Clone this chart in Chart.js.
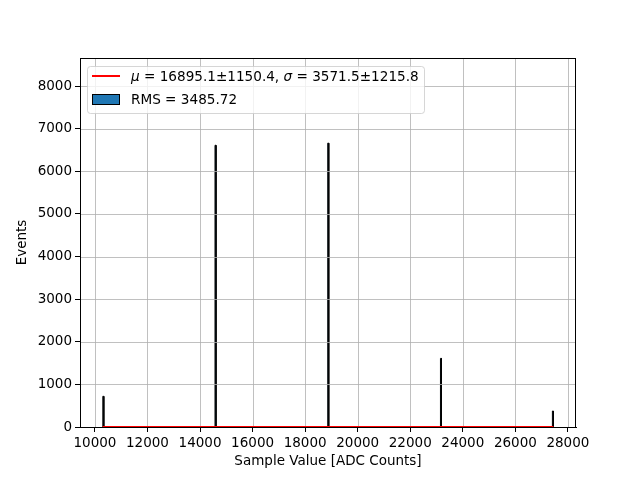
<!DOCTYPE html>
<html>
<head>
<meta charset="utf-8">
<script src="https://cdn.jsdelivr.net/npm/chart.js@4/dist/chart.umd.min.js"></script>
<style>
  html, body { margin: 0; padding: 0; background: #fff; }
  #wrap { width: 640px; height: 480px; }
</style>
</head>
<body>
<div id="wrap"><canvas id="hist" width="640" height="480"></canvas></div>
<script>
/* ADC sample histogram with gaussian fit overlay */

// histogram peaks (bin centre, events)
const peakCenters = [10320, 14590, 18880, 23170, 27430];
const peakCounts = [720, 6610, 6660, 1610, 375];
const binWidth = 40;

// gaussian fit curve (amplitude is tiny, sits on zero)
const fitX = [10290, 12000, 14000, 16000, 18000, 20000, 22000, 24000, 26000, 27450];
const fitY = [0, 0, 0, 0, 0, 0, 0, 0, 0, 0];

const xTicks = [10000, 12000, 14000, 16000, 18000, 20000, 22000, 24000, 26000, 28000];
const yTicks = [0, 1000, 2000, 3000, 4000, 5000, 6000, 7000, 8000];

const X_MIN = 9432, X_MAX = 28308;
const Y_MAX = 8658;

const FONT = 'DejaVu Sans';
const BLUE = '#1f77b4';

function histPoints() {
  const pts = [];
  peakCenters.forEach((c, i) => {
    const l = c - binWidth / 2, r = c + binWidth / 2;
    pts.push({ x: l, y: 0 }, { x: l, y: peakCounts[i] }, { x: r, y: peakCounts[i] }, { x: r, y: 0 });
  });
  return pts;
}

/* ---------- grid over the bars, frame, legend ---------- */
const decor = {
  id: 'decor',
  afterDatasetDraw(chart, args) {
    if (args.index !== 1) return;
    const { ctx, chartArea: a, scales } = chart;
    ctx.save();
    ctx.strokeStyle = '#b0b0b0';
    ctx.lineWidth = 0.8;
    ctx.beginPath();
    xTicks.forEach((v) => {
      const px = Math.round(scales.x.getPixelForValue(v)) + 0.5;
      ctx.moveTo(px, a.top); ctx.lineTo(px, a.bottom);
    });
    yTicks.forEach((v) => {
      const py = Math.round(scales.y.getPixelForValue(v)) + 0.5;
      ctx.moveTo(a.left, py); ctx.lineTo(a.right, py);
    });
    ctx.stroke();
    ctx.restore();
  },
  afterDraw(chart) {
    const { ctx, chartArea: a } = chart;
    ctx.save();
    ctx.strokeStyle = '#000';
    ctx.lineWidth = 1;
    ctx.strokeRect(a.left + 0.5, a.top + 0.5, a.right - a.left - 1, a.bottom - a.top);

    // legend
    const lx = 87, ly = 66, lw = 337, lh = 47;
    ctx.fillStyle = 'rgba(255,255,255,0.8)';
    ctx.strokeStyle = 'rgba(204,204,204,0.8)';
    ctx.beginPath();
    ctx.roundRect(lx + 0.5, ly + 0.5, lw, lh, 3);
    ctx.fill(); ctx.stroke();

    ctx.strokeStyle = '#ff0000';
    ctx.lineWidth = 2;
    ctx.beginPath(); ctx.moveTo(92, 76); ctx.lineTo(120, 76); ctx.stroke();

    ctx.fillStyle = BLUE;
    ctx.fillRect(92.5, 94.5, 27, 10);
    ctx.strokeStyle = '#000'; ctx.lineWidth = 1;
    ctx.strokeRect(92.5, 94.5, 27, 10);

    ctx.fillStyle = '#000';
    ctx.textBaseline = 'middle';
    const parts = [
      ['italic', 'μ'], ['normal', ' = 16895.1±1150.4, '], ['italic', 'σ'], ['normal', ' = 3571.5±1215.8'],
    ];
    let tx = 131;
    parts.forEach(([style, s]) => {
      ctx.font = style + ' 13.6px "' + FONT + '"';
      ctx.fillText(s, tx, 77);
      tx += ctx.measureText(s).width;
    });
    ctx.font = '13.6px "' + FONT + '"';
    ctx.fillText('RMS = 3485.72', 131, 100);
    ctx.restore();
  },
};

const plain = (v) => String(v);

new Chart(document.getElementById('hist'), {
  type: 'scatter',
  data: {
    datasets: [
      {
        label: 'fit', data: fitX.map((x, i) => ({ x, y: fitY[i] })),
        showLine: true, borderColor: '#ff0000', borderWidth: 2, pointRadius: 0, fill: false,
      },
      {
        label: 'hist', data: histPoints(),
        showLine: true, borderColor: '#000', borderWidth: 1, pointRadius: 0,
        backgroundColor: BLUE, fill: 'origin', tension: 0,
      },
    ],
  },
  options: {
    responsive: false, animation: false, devicePixelRatio: 1,
    layout: { padding: { top: 58, right: 64, left: 0, bottom: 0 } },
    plugins: { legend: { display: false }, tooltip: { enabled: false } },
    scales: {
      x: {
        type: 'linear', min: X_MIN, max: X_MAX,
        afterBuildTicks: (s) => { s.ticks = xTicks.map((v) => ({ value: v })); },
        afterFit: (s) => { s.height = 53; },
        grid: { drawOnChartArea: false, drawTicks: true, tickLength: 5, tickColor: '#000' },
        border: { display: true, color: '#000' },
        ticks: { color: '#000', font: { family: FONT, size: 13.5 }, padding: 3, maxRotation: 0, autoSkip: false, callback: plain },
        title: { display: true, text: 'Sample Value [ADC Counts]', color: '#000', font: { family: FONT, size: 13.5 }, padding: { top: 2, bottom: 10 } },
      },
      y: {
        type: 'linear', min: 0, max: Y_MAX,
        afterBuildTicks: (s) => { s.ticks = yTicks.map((v) => ({ value: v })); },
        afterFit: (s) => { s.width = 80; },
        grid: { drawOnChartArea: false, drawTicks: true, tickLength: 5, tickColor: '#000' },
        border: { display: true, color: '#000' },
        ticks: { color: '#000', font: { family: FONT, size: 13.5 }, padding: 3, autoSkip: false, callback: plain },
        title: { display: true, text: 'Events', color: '#000', font: { family: FONT, size: 13.5 }, padding: { top: 14, bottom: 0 } },
      },
    },
  },
  plugins: [decor],
});
</script>
</body>
</html>
